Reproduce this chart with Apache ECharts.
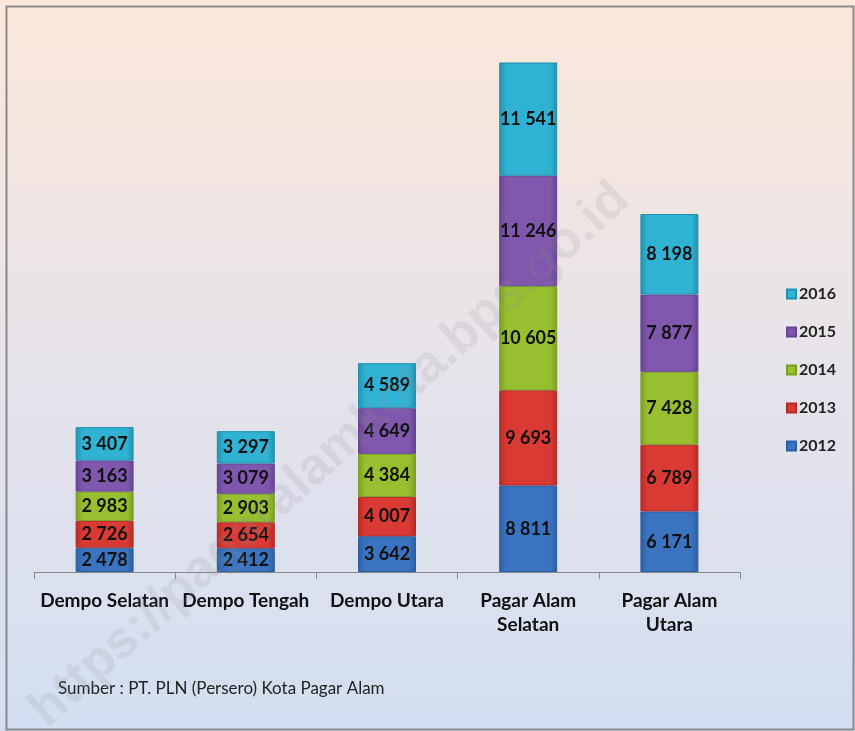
<!DOCTYPE html>
<html><head><meta charset="utf-8">
<script src="https://cdn.jsdelivr.net/npm/echarts@6/dist/echarts.min.js"></script>
<style>html,body{margin:0;padding:0;background:#fff}#c{width:855px;height:731px}</style>
</head><body><div id="c"></div>
<script>
var categories = ['Dempo Selatan', 'Dempo Tengah', 'Dempo Utara', 'Pagar Alam\nSelatan', 'Pagar Alam\nUtara'];
var years = ['2012', '2013', '2014', '2015', '2016'];
var v2012 = [2478, 2412, 3642, 8811, 6171];
var v2013 = [2726, 2654, 4007, 9693, 6789];
var v2014 = [2983, 2903, 4384, 10605, 7428];
var v2015 = [3163, 3079, 4649, 11246, 7877];
var v2016 = [3407, 3297, 4589, 11541, 8198];
var seriesValues = [v2012, v2013, v2014, v2015, v2016];
var colors = [['#6aa6e6', '#3a74c0', '#2c5e9f'], ['#f07a72', '#d93a33', '#b52a25'], ['#c3df5a', '#98bf2f', '#7c9d22'], ['#a98bd0', '#7f58ad', '#664490'], ['#6fd6ef', '#30b2d3', '#2390ad']];

function fmt(v) { return String(v).replace(/\B(?=(\d{3})+(?!\d))/g, ' '); }

var chart = echarts.init(document.getElementById('c'), null, {renderer: 'canvas'});
var series = years.map(function (y, i) {
  return {
    name: y, type: 'bar', stack: 'total', barWidth: 58,
    data: seriesValues[i],
    itemStyle: {
      color: new echarts.graphic.LinearGradient(0, 0, 1, 0, [
        {offset: 0, color: colors[i][2]}, {offset: 0.12, color: colors[i][1]},
        {offset: 0.88, color: colors[i][1]}, {offset: 1, color: colors[i][2]}]),
      borderColor: colors[i][2], borderWidth: 1
    },
    label: {
      show: true, position: 'inside', formatter: function (p) { return fmt(p.value); },
      color: '#111', fontFamily: 'Lato', fontWeight: 'bold', fontSize: 18
    }
  };
});
chart.setOption({
  backgroundColor: new echarts.graphic.LinearGradient(0, 0, 0, 1, [
    {offset: 0, color: '#fbe8da'}, {offset: 0.5, color: '#e6e3ea'}, {offset: 1, color: '#d3def0'}]),
  color: colors.map(function (c) { return c[1]; }),
  animation: false,
  grid: {left: 34, right: 115, top: 32, bottom: 159},
  legend: {
    orient: 'vertical', left: 781, top: 281, itemGap: 22,
    itemWidth: 9, itemHeight: 9, icon: 'rect',
    data: years.slice().reverse(),
    textStyle: {fontFamily: 'Lato', fontWeight: 'bold', fontSize: 16, color: '#222', padding: [0, 0, 0, -2]}
  },
  xAxis: {
    type: 'category', data: categories,
    axisLine: {lineStyle: {color: '#888', width: 1}},
    axisTick: {show: true, length: 7, lineStyle: {color: '#888'}},
    axisLabel: {fontFamily: 'Lato', fontWeight: 'bold', fontSize: 19, color: '#111', margin: 17, lineHeight: 24, interval: 0}
  },
  yAxis: {type: 'value', min: 0, max: 55000, show: false, splitLine: {show: false}},
  series: series,
  graphic: [
    {type: 'rect', left: 4, top: 4, shape: {width: 847, height: 723}, style: {fill: 'none', stroke: '#8a8a8a', lineWidth: 2}, silent: true},
    {type: 'text', left: 58, top: 680, style: {text: 'Sumber : PT. PLN (Persero) Kota Pagar Alam', font: '17px Lato', fill: '#222'}},
    {type: 'text', x: 330, y: 455, rotation: Math.PI * 42 / 180, style: {text: 'https://pagaralamkota.bps.go.id', font: 'bold 52px "Liberation Sans"', fill: 'rgba(140,140,150,0.16)', align: 'center', verticalAlign: 'middle'}, silent: true, z: 100}
  ]
});
</script></body></html>
